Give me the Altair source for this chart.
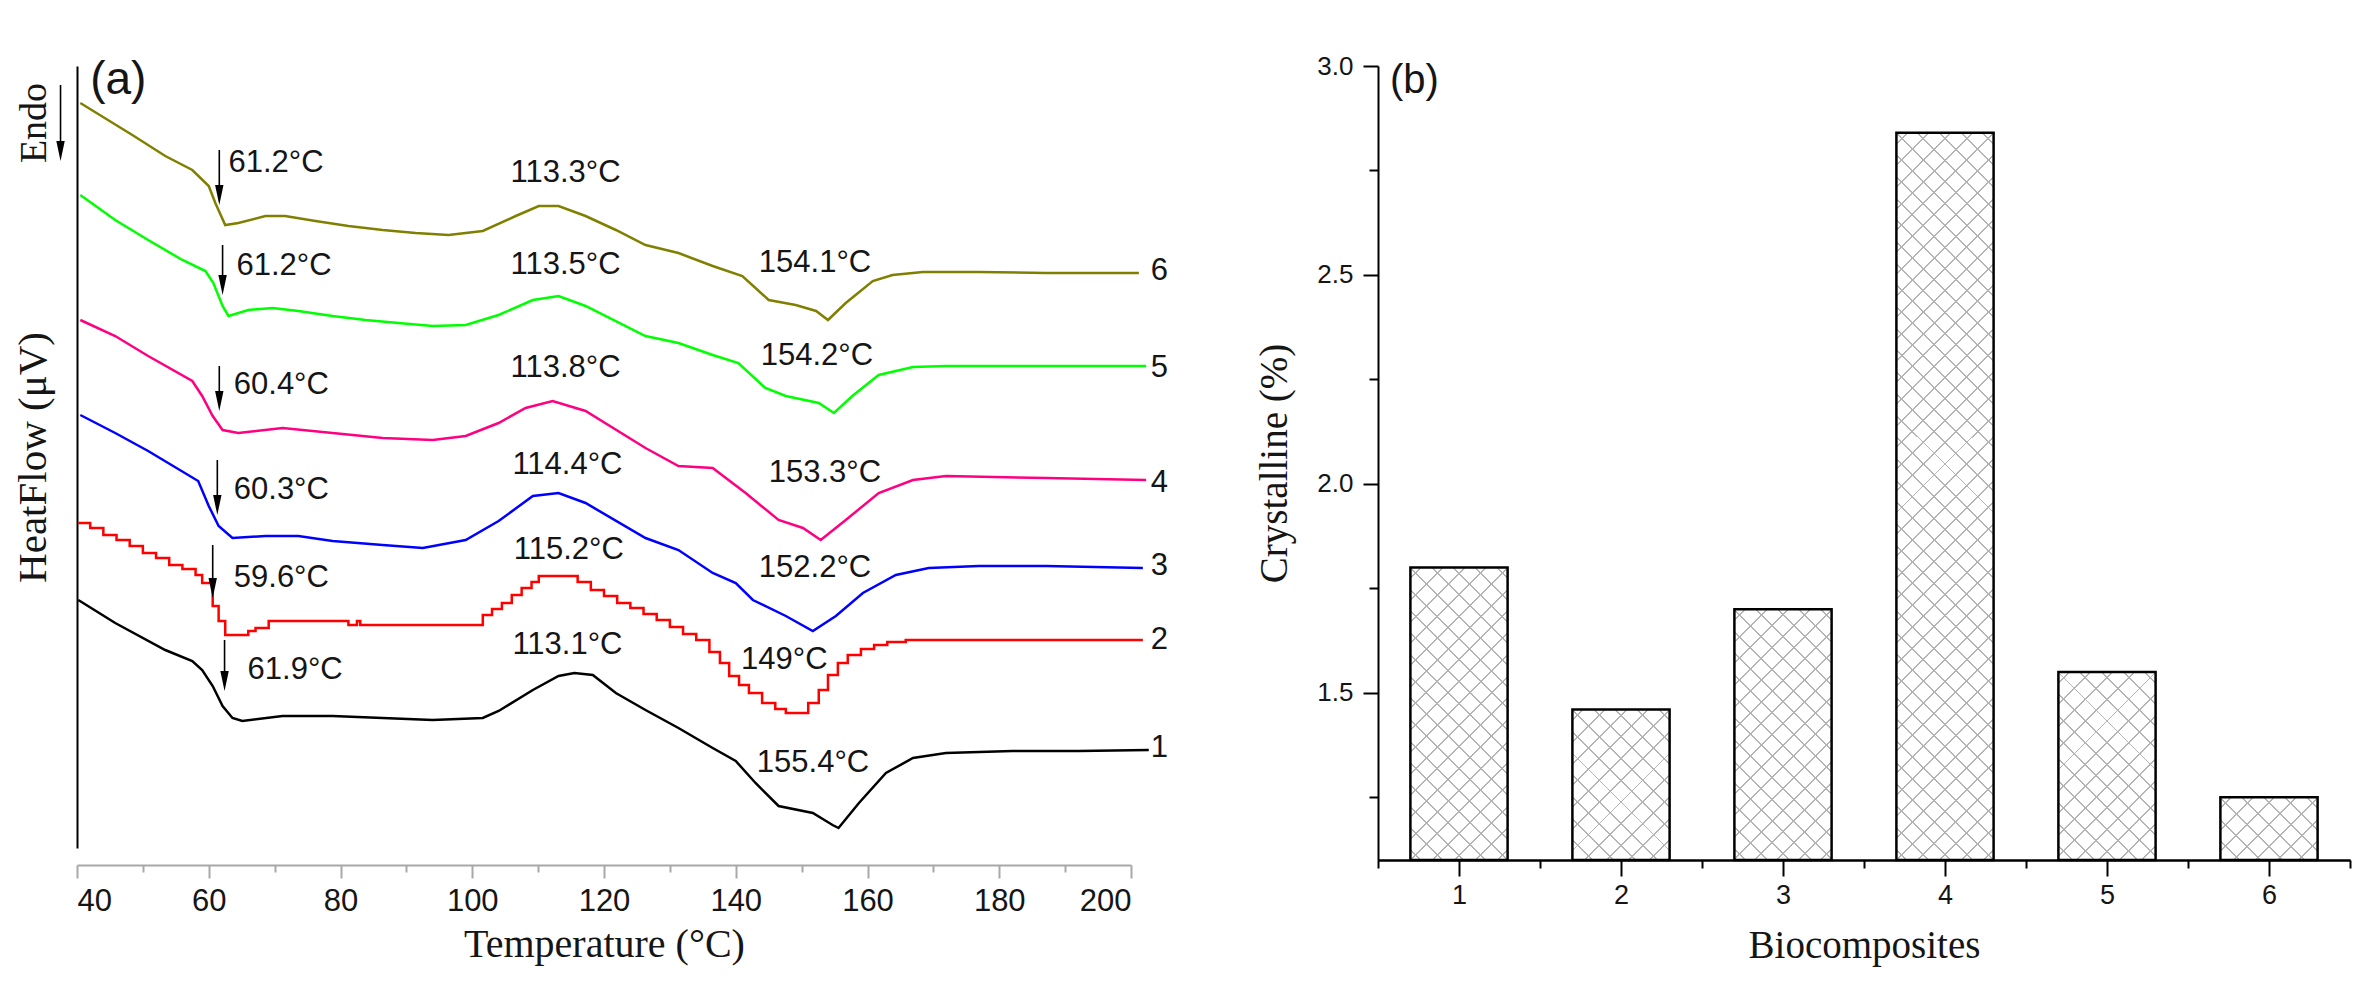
import math
import altair as alt
import pandas as pd

# ---------------- panel (a): DSC curves ----------------
SERIES = ["1", "2", "3", "4", "5", "6"]
COLORS = ["#000000", "#ff0000", "#0000ff", "#ff0080", "#00ff00", "#808000"]

curve1 = [(40.2, 24.8), (45.8, 22.5), (53.4, 19.8), (57.5, 18.7), (59.0, 17.8), (60.6, 16.2),
          (62.1, 14.2), (63.6, 13.0), (65.1, 12.7), (71.2, 13.2), (78.8, 13.2), (86.4, 13.0),
          (94.0, 12.8), (101.6, 13.0), (104.0, 13.7), (109.2, 15.8), (113.1, 17.2), (115.5, 17.5),
          (118.3, 17.3), (121.8, 15.5), (126.3, 13.8), (131.3, 12.0), (136.5, 10.0), (140.0, 8.7),
          (143.0, 6.5), (146.5, 4.2), (151.7, 3.5), (154.7, 2.3), (155.6, 2.0), (158.7, 4.5),
          (162.8, 7.5), (166.9, 9.0), (171.9, 9.5), (182.0, 9.7), (192.1, 9.7), (202.7, 9.8)]

curve2 = [(40.2, 32.5), (42.0, 32.0), (44.0, 31.3), (46.0, 30.8), (48.0, 30.2), (50.0, 29.5),
          (52.0, 29.0), (54.0, 28.3), (56.0, 27.9), (58.0, 27.3), (59.0, 26.5), (60.6, 24.2),
          (61.5, 22.7), (62.5, 21.3), (64.5, 21.3), (66.0, 21.7), (67.1, 22.0), (69.1, 22.7),
          (80.8, 22.7), (81.2, 22.3), (82.5, 22.7), (83.0, 22.3), (97.9, 22.3), (101.6, 23.3),
          (103.0, 23.9), (104.5, 24.5), (106.0, 25.3), (107.5, 26.0), (109.0, 26.6), (110.1, 27.2),
          (114.6, 27.2), (116.0, 26.6), (118.0, 25.8), (120.0, 25.2), (122.0, 24.5), (124.0, 24.0),
          (126.0, 23.4), (128.0, 22.8), (130.0, 22.1), (132.0, 21.4), (134.0, 20.8), (136.0, 19.6),
          (137.6, 18.5), (139.0, 17.2), (140.5, 16.3), (142.0, 15.5), (144.0, 14.5), (146.0, 13.9),
          (147.6, 13.5), (149.6, 13.5), (151.0, 14.5), (152.6, 15.8), (154.0, 17.3), (155.5, 18.5),
          (157.0, 19.3), (159.0, 19.9), (161.0, 20.3), (163.0, 20.6), (165.8, 20.8), (201.8, 20.8)]

curve3 = [(40.5, 43.3), (45.8, 41.5), (50.8, 39.7), (58.4, 36.7), (60.0, 34.2), (61.5, 32.2),
          (63.6, 31.0), (68.6, 31.2), (73.6, 31.2), (78.8, 30.7), (86.4, 30.3), (92.5, 30.0),
          (99.0, 30.8), (104.0, 32.7), (109.2, 35.2), (113.1, 35.5), (117.2, 34.5), (126.3, 31.0),
          (131.3, 29.8), (136.5, 27.5), (140.0, 26.5), (142.6, 24.8), (147.6, 23.2), (151.7, 21.7),
          (155.2, 23.2), (159.3, 25.5), (164.3, 27.3), (169.3, 28.0), (176.9, 28.2), (187.1, 28.2),
          (201.8, 28.0)]

curve4 = [(40.5, 52.8), (45.8, 51.2), (50.8, 49.2), (57.5, 46.7), (59.0, 45.2), (60.6, 43.2),
          (62.1, 41.8), (64.5, 41.5), (71.2, 42.0), (78.8, 41.5), (86.4, 41.0), (94.0, 40.8),
          (99.0, 41.2), (104.0, 42.5), (108.1, 44.0), (112.2, 44.7), (117.2, 43.7), (126.3, 40.0),
          (131.3, 38.2), (136.5, 38.0), (141.5, 35.5), (146.5, 32.8), (150.2, 32.0), (152.9, 30.8),
          (156.7, 32.8), (161.7, 35.5), (166.9, 36.8), (171.9, 37.2), (187.1, 37.0), (202.3, 36.8)]

curve5 = [(40.5, 65.3), (45.8, 62.8), (50.8, 60.8), (56.0, 58.8), (59.5, 57.7), (60.7, 56.5),
          (62.1, 54.2), (63.0, 53.2), (66.0, 53.8), (69.7, 54.0), (73.6, 53.7), (78.8, 53.2),
          (83.8, 52.8), (88.8, 52.5), (94.0, 52.2), (99.0, 52.3), (104.0, 53.3), (109.2, 54.8),
          (113.1, 55.2), (117.2, 54.2), (126.3, 51.2), (131.3, 50.5), (136.5, 49.3), (140.4, 48.5),
          (144.5, 46.0), (147.6, 45.2), (152.6, 44.5), (154.9, 43.5), (157.7, 45.2), (161.7, 47.3),
          (166.9, 48.1), (171.9, 48.2), (187.1, 48.2), (202.3, 48.2)]

curve6 = [(40.5, 74.5), (48.4, 71.3), (53.4, 69.2), (57.5, 67.8), (60.0, 66.2), (61.0, 64.5),
          (62.5, 62.3), (64.5, 62.5), (68.6, 63.2), (71.6, 63.2), (76.2, 62.7), (81.2, 62.2),
          (86.4, 61.8), (91.4, 61.5), (96.4, 61.3), (101.6, 61.7), (106.6, 63.2), (110.1, 64.2),
          (113.1, 64.2), (117.2, 63.2), (121.8, 61.8), (126.3, 60.3), (131.3, 59.5), (136.5, 58.2),
          (141.0, 57.2), (145.0, 54.8), (149.1, 54.3), (152.2, 53.7), (154.0, 52.8), (156.7, 54.5),
          (160.8, 56.7), (163.8, 57.3), (168.4, 57.6), (176.9, 57.6), (187.1, 57.5), (201.2, 57.5)]

CURVES = [curve1, curve2, curve3, curve4, curve5, curve6]

# glass-transition annotations (arrow + label), per sample 1..6
tg_labels = ["61.9°C", "59.6°C", "60.3°C", "60.4°C", "61.2°C", "61.2°C"]
tg_arrow_T = [62.4, 60.6, 61.3, 61.6, 62.1, 61.6]
tg_arrow_top = [20.8, 30.3, 38.8, 48.2, 60.3, 69.8]
tg_arrow_tip = [15.7, 25.0, 33.3, 43.7, 55.3, 64.3]
tg_text_T = [65.9, 63.8, 63.8, 63.8, 64.2, 63.0]
tg_text_HF = [17.8, 27.0, 35.8, 46.3, 58.2, 68.5]

# cold-crystallisation peak labels
peak_labels = ["113.1°C", "115.2°C", "114.4°C", "113.8°C", "113.5°C", "113.3°C"]
peak_T = [106.1, 106.3, 106.1, 105.8, 105.8, 105.8]
peak_HF = [20.3, 29.8, 38.3, 48.0, 58.3, 67.5]

# melting peak labels
melt_labels = ["155.4°C", "149°C", "152.2°C", "153.3°C", "154.2°C", "154.1°C"]
melt_T = [143.2, 140.8, 143.5, 145.0, 143.8, 143.5]
melt_HF = [8.5, 18.8, 28.0, 37.5, 49.2, 58.5]

# curve numbers at the right end
num_T = [203.0] * 6
num_HF = [10.0, 20.8, 28.2, 36.5, 48.0, 57.7]

# ---------------- panel (b): crystallinity bars ----------------
bio = [1, 2, 3, 4, 5, 6]
cryst = [1.80, 1.46, 1.70, 2.84, 1.55, 1.25]
Y_MIN_B, Y_MAX_B = 1.1, 3.0

# ---------------- sizes ----------------
W_A, H_A = 1054, 782
W_B, H_B = 972, 794
SANS = "Liberation Sans"
SERIF = "Liberation Serif"
TXT = "#151515"

# ================= panel (a) =================
rows = []
for name, pts in zip(SERIES, CURVES):
    for t, h in pts:
        rows.append({"sample": name, "T": t, "HF": h})
df_curves = pd.DataFrame(rows)

x_scale_a = alt.Scale(domain=[40, 200], nice=False, zero=False)
y_scale_a = alt.Scale(domain=[0, 78.2], nice=False, zero=False)

X_A = alt.X("T:Q", scale=x_scale_a, title="Temperature (°C)",
            axis=alt.Axis(values=list(range(40, 201, 10)),
                          labelExpr="datum.value % 20 === 0 ? datum.label : ''",
                          format="d",
                          tickSize={"condition": {"test": "datum.value % 20 !== 0", "value": 7}, "value": 13},
                          tickColor="#a8a8a8", domainColor="#a8a8a8", tickWidth=2, domainWidth=2,
                          offset=17, labelFontSize=31, labelPadding=8, labelFont=SANS, labelColor=TXT,
                          titleFont=SERIF, titleFontSize=40, titleFontWeight="normal",
                          titlePadding=8, titleColor=TXT, grid=False))
Y_A = alt.Y("HF:Q", scale=y_scale_a, title="HeatFlow (μV)",
            axis=alt.Axis(labels=False, ticks=False, domainColor="black", domainWidth=2,
                          titleFont=SERIF, titleFontSize=41, titleFontWeight="normal",
                          titlePadding=23, titleColor=TXT, grid=False))

color = alt.Color("sample:N", scale=alt.Scale(domain=SERIES, range=COLORS), legend=None)

lines = alt.Chart(df_curves).transform_filter("datum.sample != '2'").mark_line(
    strokeWidth=2.5).encode(x=X_A, y=Y_A, color=color)
line_red = alt.Chart(df_curves).transform_filter("datum.sample == '2'").mark_line(
    strokeWidth=2.5, interpolate="step-after", color="#ff0000").encode(x=X_A, y=Y_A)

df_labels = pd.DataFrame({
    "T": tg_text_T + peak_T + melt_T,
    "HF": tg_text_HF + peak_HF + melt_HF,
    "label": tg_labels + peak_labels + melt_labels,
})
ann_text = alt.Chart(df_labels).mark_text(
    align="left", baseline="middle", font=SANS, fontSize=31, color=TXT
).encode(x=X_A, y=Y_A, text="label:N")

df_nums = pd.DataFrame({"T": num_T, "HF": num_HF, "label": SERIES})
num_text = alt.Chart(df_nums).mark_text(
    align="left", baseline="middle", font=SANS, fontSize=31, color=TXT
).encode(x=X_A, y=Y_A, text="label:N")

# arrows (Tg markers and the Endo arrow)
arrow_T = tg_arrow_T + [37.5]
arrow_top = tg_arrow_top + [76.3]
arrow_tip = tg_arrow_tip + [68.7]
df_arrow = pd.DataFrame({"T": arrow_T, "HF": arrow_top, "HF2": [v + 1.2 for v in arrow_tip]})
df_head = pd.DataFrame({"T": arrow_T, "HF": arrow_tip})
arrow_shaft = alt.Chart(df_arrow).mark_rule(color="black", strokeWidth=1.6).encode(
    x=X_A, y=Y_A, y2="HF2:Q")
arrow_head = alt.Chart(df_head).mark_point(
    shape="M-0.42,-2L0.42,-2L0,0Z", size=400, filled=True, color="black", opacity=1
).encode(x=X_A, y=Y_A)

df_endo = pd.DataFrame({"T": [33.6], "HF": [72.5], "label": ["Endo"]})
endo_text = alt.Chart(df_endo).mark_text(
    angle=270, align="center", baseline="middle", font=SERIF, fontSize=38, color=TXT
).encode(x=X_A, y=Y_A, text="label:N")

df_pa = pd.DataFrame({"T": [42.0], "HF": [76.8], "label": ["(a)"]})
pa_text = alt.Chart(df_pa).mark_text(
    align="left", baseline="middle", font=SANS, fontSize=46, color=TXT
).encode(x=X_A, y=Y_A, text="label:N")

panel_a = alt.layer(lines, line_red, ann_text, num_text, arrow_shaft, arrow_head,
                    endo_text, pa_text).properties(width=W_A, height=H_A)

# ================= panel (b) =================
df_bars = pd.DataFrame({"bio": bio, "cryst": cryst})

x_major_b = bio
x_minor_b = [0.5 + i for i in range(7)]
y_ticks_b = [1.25 + 0.25 * i for i in range(8)]

x_scale_b = alt.Scale(domain=[0.5, 6.5], nice=False, zero=False)

X_B_MAJOR = alt.X("lo:Q", scale=x_scale_b, title="Biocomposites",
                  axis=alt.Axis(orient="bottom", values=x_major_b, format="d", tickSize=16,
                                tickColor="black", domainColor="black", tickWidth=2, domainWidth=2,
                                labelFontSize=27, labelPadding=6, labelFont=SANS, labelColor=TXT,
                                labelOverlap=False, labelFlush=False,
                                titleFont=SERIF, titleFontSize=39, titleFontWeight="normal",
                                titlePadding=18, titleColor=TXT, grid=False))
X_B_MINOR = alt.X("lo:Q", scale=x_scale_b, title=None,
                  axis=alt.Axis(orient="bottom", values=x_minor_b, labels=False, tickSize=8,
                                tickColor="black", domainColor="black", tickWidth=2, domainWidth=2,
                                grid=False))
X_B_PLAIN = alt.X("lo:Q", scale=x_scale_b, axis=None)

Y_B = alt.Y("cryst:Q", scale=alt.Scale(domain=[Y_MIN_B, Y_MAX_B], nice=False, zero=False),
            title="Crystalline (%)",
            axis=alt.Axis(values=y_ticks_b,
                          labelExpr="(datum.value * 4) % 2 === 0 ? datum.label : ''",
                          format=".1f",
                          tickSize={"condition": {"test": "(datum.value * 4) % 2 !== 0", "value": 9}, "value": 15},
                          tickColor="black", domainColor="black", tickWidth=2, domainWidth=2,
                          labelFontSize=26, labelPadding=10, labelFont=SANS, labelColor=TXT,
                          labelOverlap=False,
                          titleFont=SERIF, titleFontSize=39, titleFontWeight="normal",
                          titlePadding=22, titleColor=TXT, grid=False))

bars_base = alt.Chart(df_bars).transform_calculate(
    lo="datum.bio - 0.3", hi="datum.bio + 0.3", base=str(Y_MIN_B))


def hatch(w, h, direction, base_color, line_color, period=21.7, lw=1.4):
    L = w + h
    hw = lw * math.sqrt(2) / 2 / L
    stops = [{"offset": 0, "color": base_color}]
    j = 0
    while True:
        c = (j * period + period / 2) / L
        if c - hw >= 1:
            break
        a = round(max(0.0, c - hw), 5)
        b = round(min(1.0, c + hw), 5)
        stops += [{"offset": a, "color": base_color}, {"offset": a, "color": line_color},
                  {"offset": b, "color": line_color}, {"offset": b, "color": base_color}]
        j += 1
    stops.append({"offset": 1, "color": base_color})
    k = L / (w * w + h * h)
    if direction == "a":
        x1, y1, x2, y2 = 0, 0, w * k, h * k
    else:
        x1, y1, x2, y2 = 1, 0, 1 - w * k, h * k
    return {"gradient": "linear", "x1": round(x1, 5), "y1": round(y1, 5),
            "x2": round(x2, 5), "y2": round(y2, 5), "stops": stops}


hatch_layers = []
bar_w = 0.6 * W_B / 6
for b_id, v in zip(bio, cryst):
    bar_h = (v - Y_MIN_B) / (Y_MAX_B - Y_MIN_B) * H_B
    ga = hatch(bar_w, bar_h, "a", "#ffffff", "#b4b4b4")
    gb = hatch(bar_w, bar_h, "b", "rgba(180,180,180,0)", "#b4b4b4")
    for g in (ga, gb):
        hatch_layers.append(
            bars_base.transform_filter(f"datum.bio == {b_id}").mark_rect(
                fill=g, strokeWidth=0).encode(x=X_B_PLAIN, x2="hi:Q", y=Y_B, y2="base:Q"))

outline = bars_base.mark_rect(fillOpacity=0, stroke="black", strokeWidth=2.5).encode(
    x=X_B_MAJOR, x2="hi:Q", y=Y_B, y2="base:Q")

df_pb = pd.DataFrame({"lo": [0.574], "cryst": [2.964], "label": ["(b)"]})
pb_text = alt.Chart(df_pb).mark_text(
    align="left", baseline="middle", font=SANS, fontSize=40, color=TXT
).encode(x=X_B_MINOR, y=Y_B, text="label:N")

panel_b = alt.layer(*hatch_layers, outline, pb_text).resolve_axis(x="independent").properties(
    width=W_B, height=H_B)

chart = alt.hconcat(panel_a, panel_b, spacing=86).properties(
    padding={"left": 4, "top": 45, "right": 5, "bottom": 5}
).configure_view(strokeWidth=0).configure_axis(grid=False)

chart.save("out.html", embed_options={"renderer": "svg", "actions": False})
